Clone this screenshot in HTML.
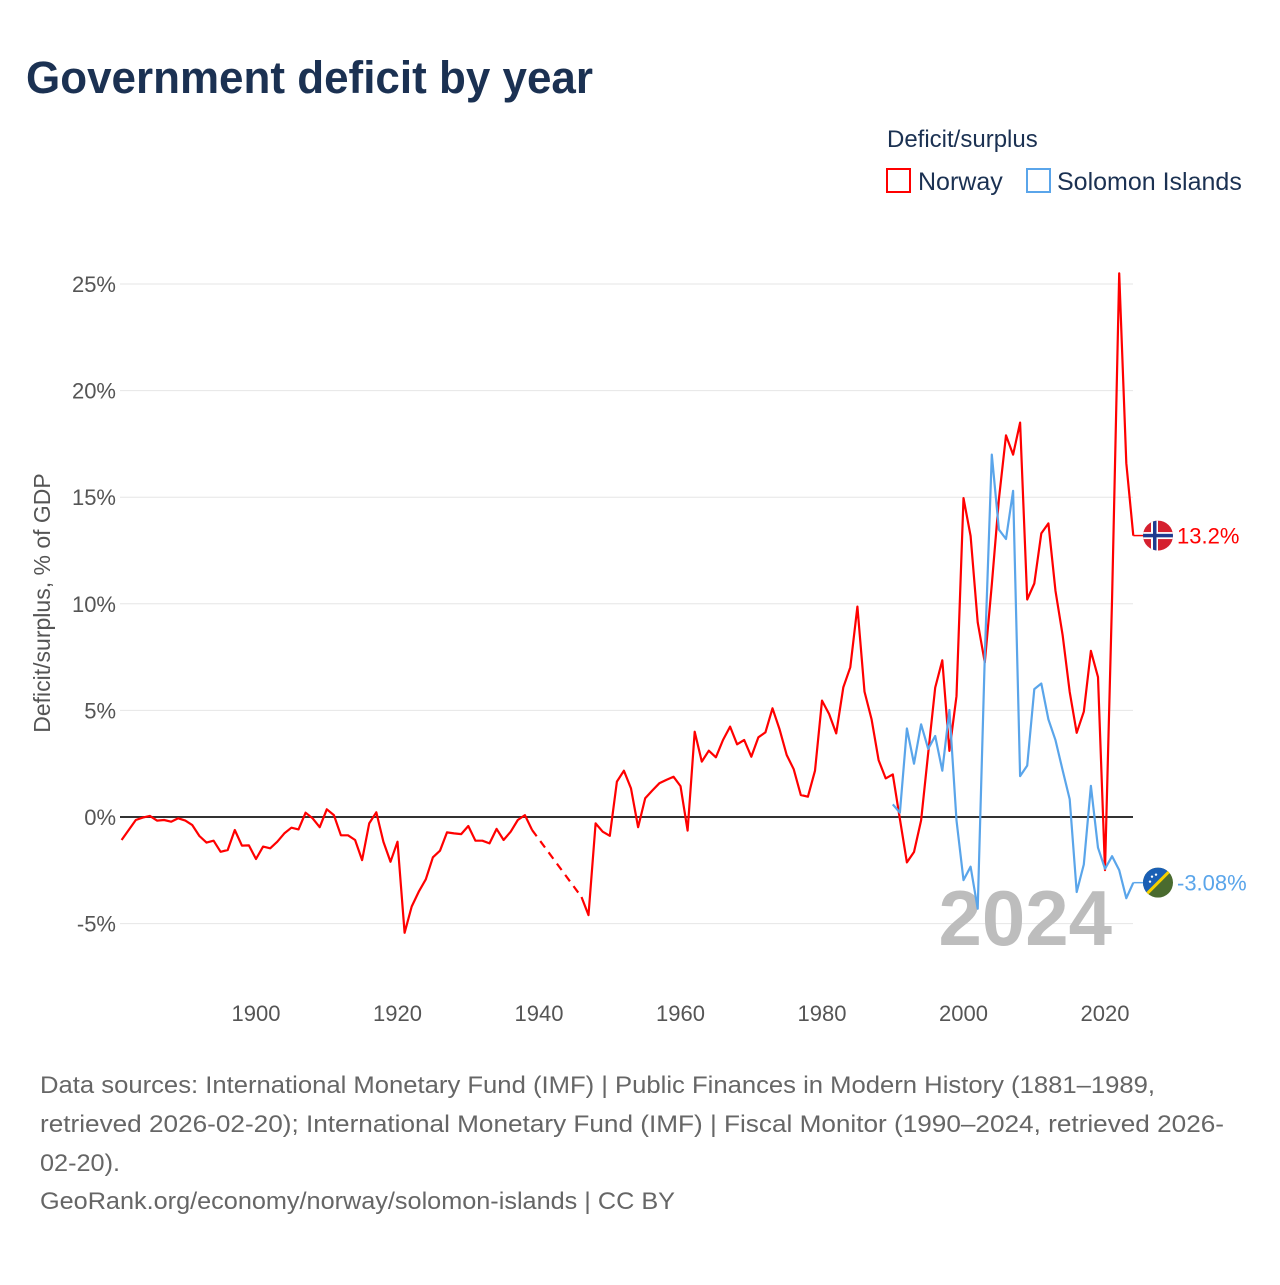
<!DOCTYPE html>
<html><head><meta charset="utf-8"><style>
body{margin:0;background:#fff;width:1280px;height:1280px;overflow:hidden;font-family:"Liberation Sans",sans-serif}
svg text{font-family:"Liberation Sans",sans-serif}
</style></head><body>
<svg id="chart" width="1280" height="1280" viewBox="0 0 1280 1280" xmlns="http://www.w3.org/2000/svg">
<text x="26" y="93" font-size="45" font-weight="bold" fill="#1b3152" textLength="567" lengthAdjust="spacingAndGlyphs">Government deficit by year</text>
<text x="887" y="147" font-size="24" fill="#1b3152">Deficit/surplus</text>
<g><rect x="887" y="169" width="23" height="23" fill="none" stroke="#ff0000" stroke-width="2"/><text x="918" y="190" font-size="25" fill="#1b3152">Norway</text></g>
<g><rect x="1027" y="169" width="23" height="23" fill="none" stroke="#5aa5ea" stroke-width="2"/><text x="1057" y="190" font-size="25" fill="#1b3152">Solomon Islands</text></g>
<text transform="translate(50,603) rotate(-90)" text-anchor="middle" font-size="23" fill="#555">Deficit/surplus, % of GDP</text>
<g id="grid"></g>
<text x="1112" y="945" text-anchor="end" font-size="78" font-weight="bold" fill="#bdbdbd">2024</text>
<g id="series"></g>
<g id="ends"></g>
<g font-size="24" fill="#666">
<text x="40" y="1093" textLength="1115" lengthAdjust="spacingAndGlyphs">Data sources: International Monetary Fund (IMF) | Public Finances in Modern History (1881–1989,</text>
<text x="40" y="1132" textLength="1184" lengthAdjust="spacingAndGlyphs">retrieved 2026-02-20); International Monetary Fund (IMF) | Fiscal Monitor (1990–2024, retrieved 2026-</text>
<text x="40" y="1171" textLength="80" lengthAdjust="spacingAndGlyphs">02-20).</text>
<text x="40" y="1209" textLength="635" lengthAdjust="spacingAndGlyphs">GeoRank.org/economy/norway/solomon-islands | CC BY</text>
</g>
</svg>
<script>
const norwayStart = 1881;
const norwayValues = [-1.08,-0.61,-0.14,-0.03,0.05,-0.17,-0.14,-0.22,-0.06,-0.17,-0.38,-0.89,-1.2,-1.11,-1.63,-1.55,-0.61,-1.34,-1.33,-1.97,
-1.39,-1.47,-1.16,-0.77,-0.5,-0.58,0.2,-0.06,-0.48,0.36,0.09,-0.86,-0.86,-1.08,-2.02,-0.3,0.22,-1.16,-2.1,-1.16,
-5.43,-4.2,-3.5,-2.92,-1.89,-1.58,-0.72,-0.77,-0.8,-0.42,-1.11,-1.11,-1.24,-0.56,-1.08,-0.69,-0.14,0.09,-0.6,
null,null,null,null,null,null,-3.75,-4.6,-0.3,-0.69,-0.88,1.66,2.17,1.34,-0.48,0.88,1.24,1.58,1.74,1.89,1.45,-0.64,
4.0,2.6,3.11,2.8,3.61,4.24,3.41,3.61,2.83,3.74,3.97,5.1,4.11,2.91,2.24,1.03,0.95,2.17,5.46,4.83,3.92,6.08,7.02,9.87,
5.88,4.58,2.67,1.81,2.0,-0.1,-2.13,-1.64,-0.16,3.0,6.07,7.35,3.1,5.67,14.96,13.18,9.13,7.25,10.9,14.9,17.9,17.0,18.5,
10.2,10.95,13.3,13.77,10.6,8.54,5.87,3.95,4.94,7.79,6.56,-2.49,10.3,25.5,16.6,13.2];
const solomonStart = 1990;
const solomonValues = [0.59,0.2,4.15,2.5,4.35,3.2,3.8,2.17,5.02,-0.16,-2.96,-2.33,-4.3,7.55,17.0,13.48,13.04,15.3,1.92,2.41,
6.0,6.26,4.58,3.6,2.2,0.83,-3.52,-2.23,1.46,-1.44,-2.43,-1.84,-2.49,-3.81,-3.08];
const yTicks = [25,20,15,10,5,0,-5];
const xTicks = [1900,1920,1940,1960,1980,2000,2020];

const NS="http://www.w3.org/2000/svg";
const X=yr=>121.6+(yr-1881)*7.075;
const Y=v=>817-v*21.32;
function mk(tag,attrs,parent){const e=document.createElementNS(NS,tag);for(const k in attrs)e.setAttribute(k,attrs[k]);parent.appendChild(e);return e;}
const grid=document.getElementById('grid');
yTicks.forEach(t=>{
  const l=mk('line',{x1:120,x2:1133,y1:Y(t),y2:Y(t),stroke:t===0?'#333':'#e6e6e6','stroke-width':t===0?2:1},grid);
  
  
  const tx=mk('text',{x:116,y:Y(t)+8,'text-anchor':'end','font-size':22,fill:'#555'},grid);
  tx.textContent=t+'%';
  
  
});
xTicks.forEach(t=>{
  const tx=mk('text',{x:X(t),y:1021,'text-anchor':'middle','font-size':22,fill:'#555'},grid);
  tx.textContent=t;
  
  
});
const series=document.getElementById('series');
function draw(start,vals,color,name){
  let d='',dash='',pen=false,last=null;
  vals.forEach((v,i)=>{
    if(v===null){pen=false;return;}
    const px=X(start+i),py=Y(v);
    if(!pen&&last){dash+='M'+last[0]+' '+last[1]+'L'+px+' '+py;}
    d+=(pen?'L':'M')+px.toFixed(1)+' '+py.toFixed(1);
    pen=true;last=[px,py];
  });
  const p=mk('path',{d:d,fill:'none',stroke:color,'stroke-width':2.2,'stroke-linejoin':'round'},series);
  
  
  if(dash){const q=mk('path',{d:dash,fill:'none',stroke:color,'stroke-width':2.2,'stroke-dasharray':'8 6'},series);
  
  }
  return last;
}
const ends=document.getElementById('ends');
function endLabel(last,val,color,name,flag){
  const cx=1158,cy=last[1];
  const c=mk('line',{x1:last[0],x2:cx-14,y1:cy,y2:cy,stroke:color,'stroke-width':1.5},ends);
  
  
  const g=mk('g',{},ends);
  
  
  g.innerHTML=flag(cx,cy);
  const t=mk('text',{x:1177,y:cy+8,'font-size':22,fill:color},ends);
  t.textContent=val;
  
  
}
const nl=draw(norwayStart,norwayValues,'#ff0000','norway');
const sl=draw(solomonStart,solomonValues,'#5aa5ea','solomon-islands');
endLabel(nl,norwayValues[norwayValues.length-1]+'%','#ff0000','norway',(x,y)=>
 `<clipPath id="cn"><circle cx="${x}" cy="${y}" r="15"/></clipPath><g clip-path="url(#cn)"><rect x="${x-15}" y="${y-15}" width="30" height="30" fill="#d5202f"/><rect x="${x-7}" y="${y-15}" width="7" height="30" fill="#fff"/><rect x="${x-15}" y="${y-3.5}" width="30" height="7" fill="#fff"/><rect x="${x-5}" y="${y-15}" width="3.5" height="30" fill="#1f3a8f"/><rect x="${x-15}" y="${y-1.75}" width="30" height="3.5" fill="#1f3a8f"/></g>`);
endLabel(sl,solomonValues[solomonValues.length-1]+'%','#5aa5ea','solomon-islands',(x,y)=>
 `<clipPath id="cs"><circle cx="${x}" cy="${y}" r="15"/></clipPath><g clip-path="url(#cs)"><rect x="${x-15}" y="${y-15}" width="30" height="30" fill="#4a6b2f"/><polygon points="${x-15},${y-15} ${x+15},${y-15} ${x-15},${y+15}" fill="#1a5fb4"/><line x1="${x-15}" y1="${y+15}" x2="${x+15}" y2="${y-15}" stroke="#f5d000" stroke-width="3"/><circle cx="${x-6}" cy="${y-6}" r="1.2" fill="#fff"/><circle cx="${x-2}" cy="${y-8}" r="1.2" fill="#fff"/><circle cx="${x-8}" cy="${y-1}" r="1.2" fill="#fff"/></g>`);
</script>
</body></html>
